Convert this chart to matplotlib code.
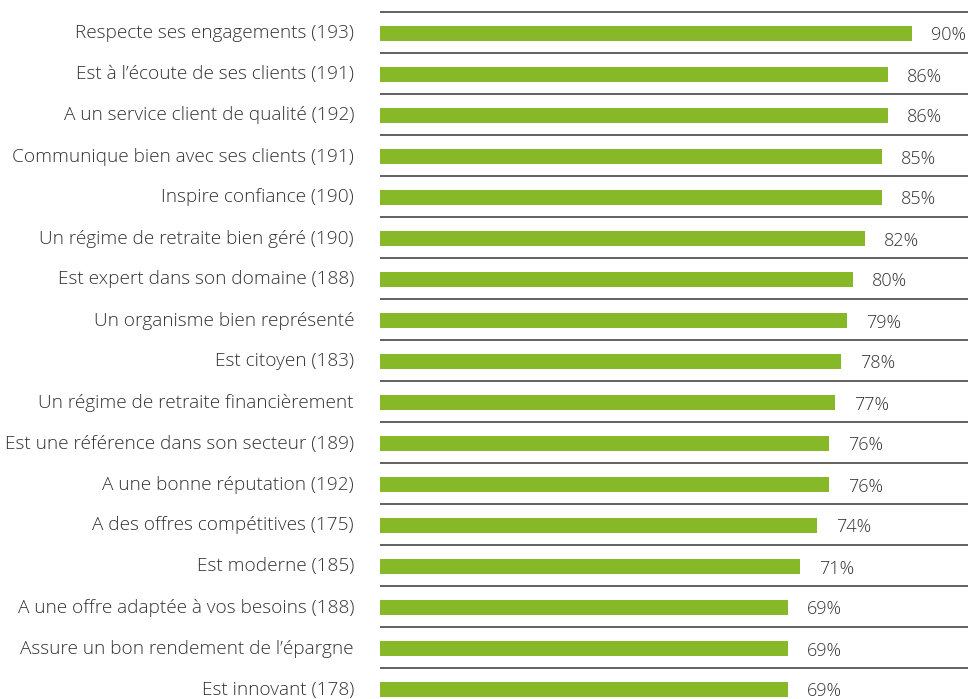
import matplotlib
matplotlib.use("Agg")
import matplotlib.pyplot as plt
from matplotlib.transforms import offset_copy

plt.rcParams['font.family'] = ['Open Sans', 'DejaVu Sans']

labels = [
    "Respecte ses engagements (193)",
    "Est à l\u2019écoute de ses clients (191)",
    "A un service client de qualité (192)",
    "Communique bien avec ses clients (191)",
    "Inspire confiance (190)",
    "Un régime de retraite bien géré (190)",
    "Est expert dans son domaine (188)",
    "Un organisme bien représenté",
    "Est citoyen (183)",
    "Un régime de retraite financièrement",
    "Est une référence dans son secteur (189)",
    "A une bonne réputation (192)",
    "A des offres compétitives (175)",
    "Est moderne (185)",
    "A une offre adaptée à vos besoins (188)",
    "Assure un bon rendement de l\u2019épargne",
    "Est innovant (178)",
]
values = [90, 86, 86, 85, 85, 82, 80, 79, 78, 77, 76, 76, 74, 71, 69, 69, 69]

bar_color = '#86b828'
text_color = '#333333'

fig = plt.figure(figsize=(9.68, 6.99), dpi=100)
# axes covers from x=380px to the right edge, full height
ax = fig.add_axes([380 / 968, 0, 1 - 380 / 968, 1])

rows = list(range(len(labels)))
ax.barh(rows, values, height=0.366, color=bar_color, zorder=2)

# separator lines between rows
for i in rows:
    ax.axhline(i - 0.524, color='#555555', linewidth=1.3, zorder=1)

# value labels
lbl_trans = offset_copy(ax.transData, fig=fig, x=19, y=-2, units='dots')
for i, v in zip(rows, values):
    ax.text(v, i, f"{v}%", transform=lbl_trans, ha='left', va='center',
            fontsize=13, color=text_color, fontweight='light')

# category labels
cat_trans = offset_copy(ax.transData, fig=fig, x=-26, y=0, units='dots')
for i, lab in zip(rows, labels):
    ax.text(0, i, lab, transform=cat_trans, ha='right', va='center',
            fontsize=13.7, color=text_color, fontweight='light', clip_on=False)

ax.set_xlim(0, (968 - 380) / 5.91)
ax.set_ylim((699 - 33.5) / 41, -33.5 / 41)
ax.axis('off')

fig.savefig('out.png', dpi=100)
